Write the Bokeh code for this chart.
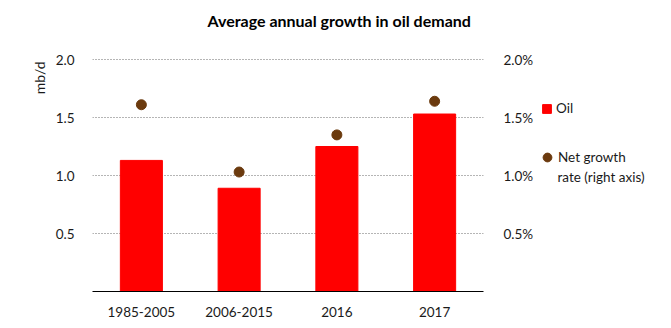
from bokeh.plotting import figure
from bokeh.layouts import row
from bokeh.models import (Range1d, LinearAxis, FixedTicker, PrintfTickFormatter,
                          Title, Legend, LegendItem, Label, ColumnDataSource)
from bokeh.embed import file_html
from bokeh.resources import INLINE

categories = ["1985-2005", "2006-2015", "2016", "2017"]
oil_mbd = [1.13, 0.89, 1.25, 1.53]
growth_pct = [1.61, 1.03, 1.35, 1.64]
y_ticks = [0.5, 1.0, 1.5, 2.0]

FONT = "Lato"
TXT = "#1a1a1a"
RED = "#FF0000"
BROWN = "#6B3A0E"

src = ColumnDataSource(dict(cat=categories, oil=oil_mbd, g=growth_pct))

YMAX = 2.0 * 235 / 232

p = figure(width=536, height=328, x_range=categories, y_range=Range1d(0, YMAX),
           output_backend="svg", toolbar_location=None,
           min_border_left=92, min_border_right=50, min_border_top=56,
           min_border_bottom=37)
p.outline_line_color = None
p.x_range.range_padding = 0.0
p.extra_y_ranges = {"pct": Range1d(0, YMAX)}

bars = p.vbar(x="cat", top="oil", width=0.43, source=src, color=RED)
dots = p.scatter(x="cat", y="g", source=src, y_range_name="pct", size=10,
                 color=BROWN)

ya = p.yaxis[0]
ya.ticker = FixedTicker(ticks=y_ticks)
ya.formatter = PrintfTickFormatter(format="%.1f")
ya.axis_line_color = None
ya.major_tick_line_color = None
ya.minor_tick_line_color = None
ya.major_label_standoff = 12
ya.major_label_text_font = FONT
ya.major_label_text_font_size = "13.5px"
ya.major_label_text_color = TXT

ra = LinearAxis(y_range_name="pct", ticker=FixedTicker(ticks=y_ticks),
                formatter=PrintfTickFormatter(format="%.1f%%"))
ra.axis_line_color = None
ra.major_tick_line_color = None
ra.minor_tick_line_color = None
ra.major_label_standoff = 14
ra.major_label_text_font = FONT
ra.major_label_text_font_size = "13.5px"
ra.major_label_text_color = TXT
p.add_layout(ra, "right")

xa = p.xaxis[0]
xa.axis_line_color = "black"
xa.axis_line_width = 1
xa.major_tick_line_color = None
xa.minor_tick_line_color = None
xa.major_label_standoff = 9
xa.major_label_text_font = FONT
xa.major_label_text_font_size = "13.5px"
xa.major_label_text_color = TXT

p.xgrid.grid_line_color = None
p.ygrid.ticker = FixedTicker(ticks=y_ticks)
p.ygrid.grid_line_color = "#6a6a6a"
p.ygrid.grid_line_dash = "1 2"
p.ygrid.grid_line_width = 1

# spacer between the frame and the title
p.add_layout(Title(text=" ", text_font_size="1px", standoff=24), "above")
p.title = Title(text="Average annual growth in oil demand", align="left",
                offset=115, text_font=FONT, text_font_style="bold",
                text_font_size="16px", text_color="black", standoff=0)
p.add_layout(Title(text="mb/d", align="right", text_font=FONT,
                   text_font_style="normal", text_font_size="14px",
                   text_color=TXT, standoff=10, offset=5), "left")

# legend panel
p2 = figure(width=135, height=328, x_range=Range1d(0, 1), y_range=Range1d(0, 1),
            output_backend="svg", toolbar_location=None,
            min_border=0, x_axis_location=None, y_axis_location=None)
p2.outline_line_color = None
p2.xgrid.visible = False
p2.ygrid.visible = False
nan = float("nan")
leg_bar = p2.vbar(x=[nan], top=[nan], width=0.1, color=RED)
leg_dot = p2.scatter(x=[nan], y=[nan], size=10, color=BROWN)

common = dict(border_line_color=None, background_fill_alpha=0, padding=0,
              margin=0, label_text_font=FONT, label_text_font_size="13.5px",
              label_text_color=TXT)
lg1 = Legend(items=[LegendItem(label="Oil", renderers=[leg_bar])],
             location=(5, 291 - 116), glyph_width=11, glyph_height=11,
             label_height=16, label_standoff=4, **common)
lg2 = Legend(items=[LegendItem(label="Net growth", renderers=[leg_dot])],
             location=(0, 291 - 168), glyph_width=22, glyph_height=22,
             label_height=22, label_standoff=-1, **common)
p2.add_layout(lg1, "center")
p2.add_layout(lg2, "center")
p2.add_layout(Label(x=21, y=291 - 176, x_units="screen", y_units="screen",
                    text="rate (right axis)", text_baseline="middle",
                    text_font=FONT, text_font_size="13.5px", text_color=TXT))

layout = row(p, p2, spacing=0)
open("out.html", "w").write(file_html(layout, INLINE))
